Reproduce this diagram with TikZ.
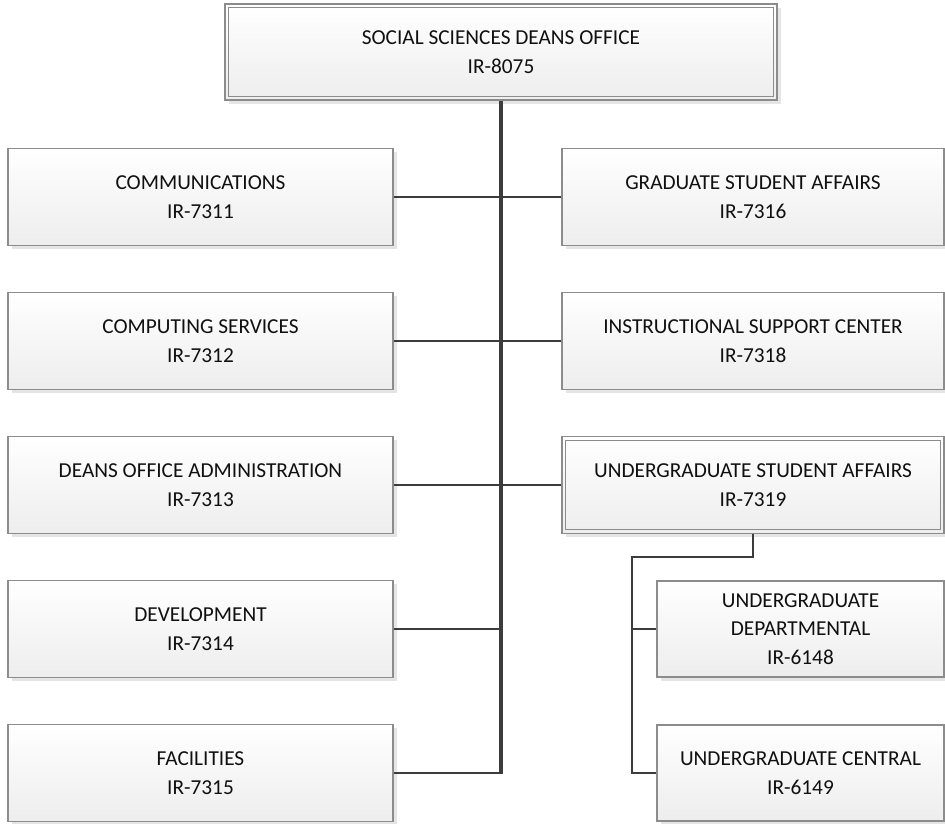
\documentclass[tikz,border=0pt]{standalone}
\usepackage{fontspec}
\setmainfont{Carlito}
\usetikzlibrary{shadows}
\definecolor{boxline}{HTML}{8C8C8C}
\definecolor{conn}{HTML}{3C3C3C}
\definecolor{txt}{HTML}{101010}
\begin{document}
\begin{tikzpicture}[x=1pt,y=-1pt,
  orgbox/.style={draw=boxline, line width=1.3pt, top color=white, bottom color=black!7,
    rectangle, align=center, text=txt, inner sep=0pt,
    font=\fontsize{21.3}{28.5}\selectfont,
    drop shadow={shadow xshift=3.5pt, shadow yshift=-3.5pt, fill=black!10, opacity=1}},
  lbox/.style={orgbox, minimum width=385pt, minimum height=97pt},
  rbox/.style={orgbox, minimum width=382pt, minimum height=97pt},
  sbox/.style={orgbox, minimum width=287pt, minimum height=96pt},
  innerline/.style={draw=boxline, line width=1.1pt},
  mainconn/.style={draw=conn, line width=3.4pt},
  conn/.style={draw=conn, line width=2.6pt}
]
\useasboundingbox (0,0) rectangle (945,823);

% top
\node[orgbox, minimum width=552pt, minimum height=96pt] (top) at (501,52) {SOCIAL SCIENCES DEANS OFFICE\\IR-8075};
\draw[innerline] ([xshift=4.5pt,yshift=-4.5pt]top.north west) rectangle ([xshift=-4.5pt,yshift=4.5pt]top.south east);

% left column
\node[lbox] (comm) at (200.5,197) {COMMUNICATIONS\\IR-7311};
\node[lbox] (comp) at (200.5,341) {COMPUTING SERVICES\\IR-7312};
\node[lbox] (dean) at (200.5,485) {DEANS OFFICE ADMINISTRATION\\IR-7313};
\node[lbox] (dev)  at (200.5,629) {DEVELOPMENT\\IR-7314};
\node[lbox] (fac)  at (200.5,773) {FACILITIES\\IR-7315};

% right column
\node[rbox] (grad) at (753,197) {GRADUATE STUDENT AFFAIRS\\IR-7316};
\node[rbox] (inst) at (753,341) {INSTRUCTIONAL SUPPORT CENTER\\IR-7318};
\node[rbox] (ug)   at (753,485) {UNDERGRADUATE STUDENT AFFAIRS\\IR-7319};
\draw[innerline] ([xshift=4.5pt,yshift=-4.5pt]ug.north west) rectangle ([xshift=-4.5pt,yshift=4.5pt]ug.south east);

% sub boxes
\node[sbox] (udep) at (800.5,629) {UNDERGRADUATE\\DEPARTMENTAL\\IR-6148};
\node[sbox] (ucen) at (800.5,773) {UNDERGRADUATE CENTRAL\\IR-6149};

% connectors
\path[conn] (comm.east) -- (grad.west);
\path[conn] (comp.east) -- (inst.west);
\path[conn] (dean.east) -- (ug.west);
\path[conn] (dev.east) -- (dev.east -| top.south);
\path[conn] (fac.east) -- (fac.east -| top.south);
\path[mainconn] (top.south) -- ([yshift=-1.3pt]top.south |- fac.east);

\coordinate (ugk) at (632,557);
\path[conn] (ug.south) -- (ug.south |- ugk) -- (ugk) -- ([yshift=-1.3pt]ugk |- ucen.west);
\path[conn] ([xshift=-1.3pt]ugk |- ucen.west) -- (ucen.west);
\path[conn] (ugk |- udep.west) -- (udep.west);
\end{tikzpicture}
\end{document}
